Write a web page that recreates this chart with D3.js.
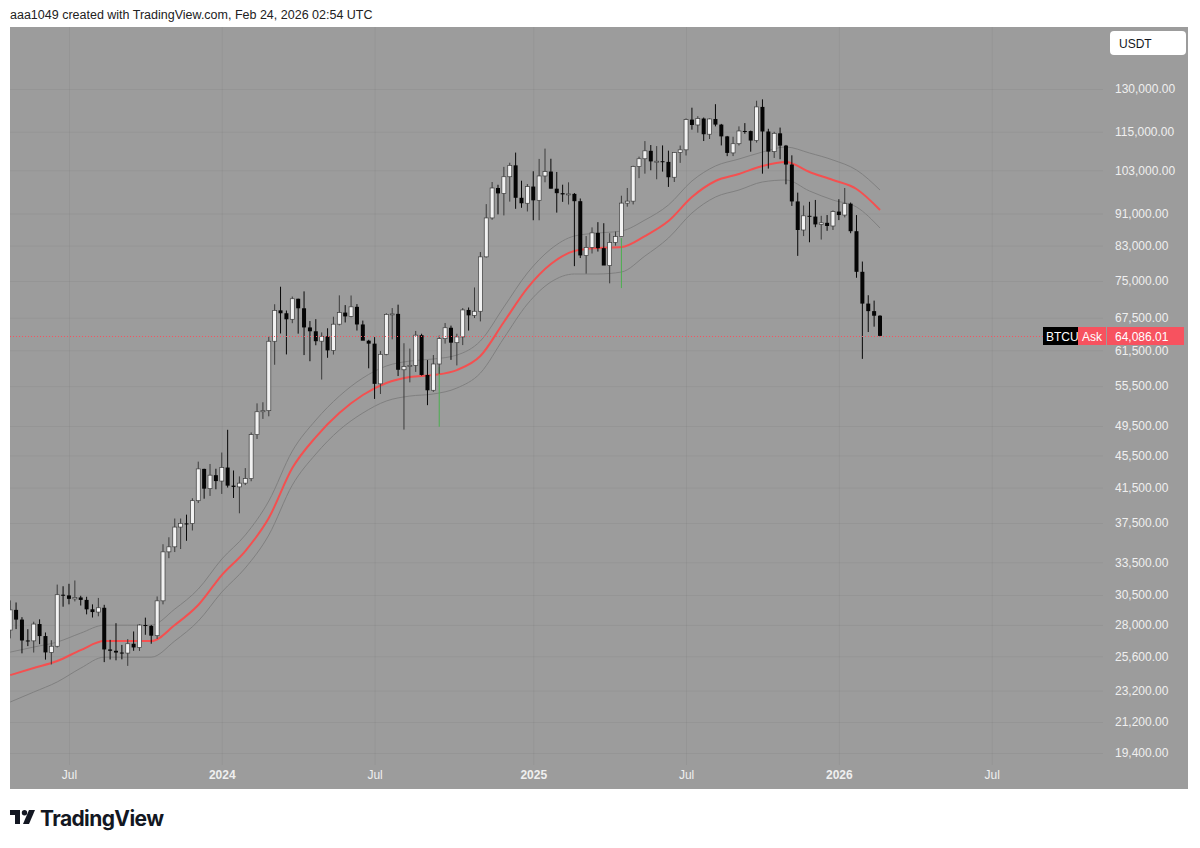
<!DOCTYPE html>
<html>
<head>
<meta charset="utf-8">
<script src="https://cdn.jsdelivr.net/npm/d3@7"></script>
<style>
  body { margin: 0; background: #fff; }
  svg { display: block; font-family: "Liberation Sans", Arial, sans-serif; }
</style>
</head>
<body>
<svg id="chart" width="1200" height="848"></svg>
<script>
// Velas semanales BTC/USDT (lunes de cada semana)
const firstWeek = "2023-04-24";
const lastWeek = "2026-02-23";

const opens = [27590,29233,28430,26780,26750,28070,27120,25880,26340,30530,30470,30170,30290,30080,29280,29050,29410,26100,26000,25870,
  25830,26530,26250,27990,27920,27150,30000,34520,35020,37060,37450,37440,39970,43780,41370,43000,42280,43950,41730,41580,
  42030,42580,48300,51570,51730,63110,68950,68380,67210,71280,69360,65660,64940,63120,64010,61480,66270,68510,67770,69650,
  66220,63210,62680,55860,60790,68160,68260,58160,58710,58900,64220,57300,54840,59130,63580,65600,62850,63900,69030,67970,
  68770,80370,89850,97900,96400,101110,104460,95190,93710,98300,94500,101330,102620,97700,96460,96120,96260,94270,80700,82580,
  86090,82400,78400,83760,85170,93750,94280,104120,106450,108900,105650,105700,105500,100960,108380,109210,119090,117270,119450,114200,
  119300,117400,113500,108250,111140,115270,115230,112160,123500,115100,108640,114500,110540,104700,94200,86800,90400,90200,88200,88600,
  87800,91500,90600,93600,86500,77000,70300,68800,67900];
const highs = [30036,29860,28630,27660,28260,28450,27400,26800,31430,31280,31500,31800,30440,30350,29700,30250,29660,26830,28140,26440,
  26890,27480,28050,28590,28000,30380,35280,35990,37980,37980,38400,40250,44700,43800,44400,43800,45880,48970,43580,42850,
  43880,48600,52820,52990,64000,70170,73780,68920,71730,71300,72800,66870,67230,64730,65500,67700,71980,70000,71950,70200,
  66960,63370,63860,61360,68380,69400,70080,62750,61800,65000,64480,59800,60670,64130,66500,66000,64480,69400,69520,73620,
  81500,93480,99590,98800,104000,105250,108350,99960,99000,102700,106400,109590,106450,102500,98830,99500,96500,95000,85310,87450,
  88770,88500,86000,86430,95760,97900,104350,107100,111980,110720,110390,110600,108950,108500,110550,119500,123220,120250,119800,119500,
  124470,117630,113650,113380,116800,117900,115400,125700,126200,116000,115000,116400,110750,107500,96600,93100,94100,94600,90400,90600,
  91800,94800,97900,93900,90600,79300,72000,70900,68000];
const lows = [26942,27666,25811,26350,25870,26500,25350,25000,26250,29500,29700,29950,29600,28860,28600,28700,25170,25360,25300,25370,
  24900,26000,25990,27220,26530,26900,29700,33900,34500,34800,35630,36700,39700,40200,40520,41300,40750,41500,40280,38550,
  41800,42260,47700,50520,50900,59000,64530,60770,66460,64500,60660,59600,62390,56550,60190,60750,66060,66600,67600,65080,
  63380,58400,53500,54260,60630,63450,57120,49000,56100,57800,57200,52550,54590,57490,62680,59830,58890,62420,65070,67450,
  66800,80200,89380,90770,90500,94150,92230,92500,91530,89260,89250,99510,97780,91230,94090,93380,78260,80100,76600,81150,
  81600,81300,74500,83000,85100,92800,93400,100700,102000,103000,100370,102600,98200,99600,105200,107450,115700,114720,112000,112650,
  116800,110600,107250,107270,110600,114370,108620,111500,102000,103500,106700,106300,98940,93000,80600,85300,83800,87500,84450,86600,
  86800,89300,90000,86000,75700,60000,64800,65800,64000];
const closes = [29233,28430,26780,26750,28070,27120,25880,26340,30530,30470,30170,30290,30080,29280,29050,29410,26100,26000,25870,25830,
  26530,26250,27990,27920,27150,30000,34520,35020,37060,37450,37440,39970,43780,41370,43000,42280,43950,41730,41580,42030,
  42580,48300,51570,51730,63110,68950,68380,67210,71280,69360,65660,64940,63120,64010,61480,66270,68510,67770,69650,66220,
  63210,62680,55860,60790,68160,68260,58160,58710,58900,64220,57300,54840,59130,63580,65600,62850,63900,69030,67970,68770,
  80370,89850,97900,96400,101110,104460,95190,93710,98300,94500,101330,102620,97700,96460,96120,96260,94270,80700,82580,86090,
  82400,78400,83760,85170,93750,94280,104120,106450,108900,105650,105700,105500,100960,108380,109210,119090,117270,119450,114200,119300,
  117400,113500,108250,111140,115270,115230,112160,123500,115100,108640,114500,110540,104700,94200,86800,90400,90200,88200,88600,87800,
  91500,90600,93600,86500,77000,70300,68800,67900,64086.01];

// Media (roja) y canal gris, leídos cada 4 semanas
const bandStep = 4;
const maMid = [24250,24750,25250,26050,26730,26730,26730,27990,29640,32300,34600,38030,43880,47960,51370,54100,55990,56960,57290,58110,
  60490,66680,73500,78740,81730,82430,82670,85310,89060,95400,99880,101900,104270,105460,102490,100160,97610,91910];
const maUpper = [25900,26280,26660,27350,27980,27980,27980,29300,31030,33810,36220,39930,46070,50350,53930,56800,58790,59630,59980,60660,
  63150,69610,76730,82200,85320,86050,86550,89310,93240,99880,104270,106370,108530,110090,108220,106070,103070,97330];
const maLower = [22450,23100,23780,24740,25530,25530,25530,26740,28310,30760,32960,36220,41790,45680,48930,51380,53180,53940,54260,55190,
  57610,63690,70210,74780,76520,76520,76950,80560,84830,91130,95400,97330,99600,100160,97060,94580,92710,87290];

// Marcas verdes sueltas
const greenDates = ["2024-09-16", "2025-04-21"];
const greenLow = [49400, 73500];
const greenHigh = [58600, 84800];

// Ejes
const priceTicks = [130000,115000,103000,91000,83000,75000,67500,61500,55500,49500,45500,41500,37500,33500,30500,28000,25600,23200,21200,19400];
const timeTicks = ["2023-07-03","2024-01-01","2024-07-01","2025-01-06","2025-07-07","2026-01-05","2026-07-06"];
const timeLabels = ["Jul","2024","Jul","2025","Jul","2026","Jul"];
const lastPrice = 64086.01;

const weeks = d3.utcMonday.range(new Date(firstWeek), d3.utcDay.offset(new Date(lastWeek), 1));
const candles = weeks.map((d, i) => ({ date: d, o: opens[i], h: highs[i], l: lows[i], c: closes[i] }));
const band = maMid.map((m, k) => ({ date: weeks[k * bandStep], mid: m, up: maUpper[k], lo: maLower[k] }));

const svg = d3.select("#chart");
const plot = { left: 10, right: 1103, top: 27, bottom: 765 };

const x = d3.scaleUtc().domain([weeks[0], weeks[weeks.length - 1]]).range([10.2, 880]);
const y = d3.scaleLog().domain([19400, 130000]).range([753, 89]);

// texto superior
svg.append("text").attr("x", 10).attr("y", 19).attr("font-size", 12.5).attr("fill", "#222")
  .text("aaa1049 created with TradingView.com, Feb 24, 2026 02:54 UTC");

// fondo gris
svg.append("rect").attr("x", 10).attr("y", 27).attr("width", 1178).attr("height", 762).attr("fill", "#9c9c9c");

svg.append("clipPath").attr("id", "plotClip").append("rect")
  .attr("x", plot.left).attr("y", plot.top).attr("width", plot.right - plot.left).attr("height", plot.bottom - plot.top);

// rejilla
const grid = svg.append("g").attr("clip-path", "url(#plotClip)");
grid.append("g").attr("transform", `translate(${plot.left},0)`)
  .call(d3.axisRight(y).tickValues(priceTicks).tickSize(plot.right - plot.left).tickFormat(""))
  .call(g => g.select(".domain").remove())
  .call(g => g.selectAll("line").attr("stroke", "#000").attr("stroke-opacity", 0.045));
grid.append("g").attr("transform", `translate(0,${plot.top})`)
  .call(d3.axisBottom(x).tickValues(timeTicks.map(t => new Date(t))).tickSize(plot.bottom - plot.top).tickFormat(""))
  .call(g => g.select(".domain").remove())
  .call(g => g.selectAll("line").attr("stroke", "#000").attr("stroke-opacity", 0.045));

const chart = svg.append("g").attr("clip-path", "url(#plotClip)");

// canal y media
const line = key => d3.line().x(d => x(d.date)).y(d => y(d[key])).curve(d3.curveMonotoneX);
chart.append("path").datum(band).attr("d", line("up")).attr("fill", "none").attr("stroke", "#808080").attr("stroke-width", 1);
chart.append("path").datum(band).attr("d", line("lo")).attr("fill", "none").attr("stroke", "#808080").attr("stroke-width", 1);
chart.append("path").datum(band).attr("d", line("mid")).attr("fill", "none").attr("stroke", "#f45050").attr("stroke-width", 2);

// marcas verdes
chart.selectAll("line.green").data(greenDates).join("line").attr("class", "green")
  .attr("x1", d => x(new Date(d))).attr("x2", d => x(new Date(d)))
  .attr("y1", (d, i) => y(greenHigh[i])).attr("y2", (d, i) => y(greenLow[i]))
  .attr("stroke", "#4caf50").attr("stroke-width", 1);

// velas
const up = d => d.c >= d.o;
chart.selectAll("line.wick").data(candles).join("line").attr("class", "wick")
  .attr("x1", d => x(d.date)).attr("x2", d => x(d.date))
  .attr("y1", d => y(d.h)).attr("y2", d => y(d.l))
  .attr("stroke", d => up(d) ? "#3c3c3c" : "#080808").attr("stroke-width", 1);
chart.selectAll("rect.body").data(candles).join("rect").attr("class", "body")
  .attr("x", d => x(d.date) - 2)
  .attr("width", 4)
  .attr("y", d => y(Math.max(d.o, d.c)))
  .attr("height", d => Math.max(1, Math.abs(y(d.o) - y(d.c))))
  .attr("fill", d => up(d) ? "#f2f2f2" : "#050505")
  .attr("stroke", d => up(d) ? "#3c3c3c" : "none")
  .attr("stroke-width", 0.7);

// línea de precio punteada
svg.append("line").attr("x1", plot.left).attr("x2", 1043)
  .attr("y1", Math.round(y(lastPrice)) + 0.5).attr("y2", Math.round(y(lastPrice)) + 0.5)
  .attr("stroke", "#f7525f").attr("stroke-width", 1).attr("stroke-dasharray", "1,2");

// eje de precios
svg.append("g").attr("transform", "translate(1115,0)")
  .call(d3.axisRight(y).tickValues(priceTicks).tickSize(0).tickPadding(0).tickFormat(d3.format(",.2f")))
  .call(g => g.select(".domain").remove())
  .call(g => g.selectAll("text").attr("fill", "#efefef").attr("font-size", 12)
    .attr("font-family", "'Liberation Sans', Arial, sans-serif"));

// eje de tiempo
svg.append("g").attr("transform", "translate(0,770)")
  .call(d3.axisBottom(x).tickValues(timeTicks.map(t => new Date(t))).tickSize(0).tickPadding(0)
    .tickFormat((d, i) => timeLabels[i]))
  .call(g => g.select(".domain").remove())
  .call(g => g.selectAll("text").attr("fill", "#efefef").attr("font-size", 12)
    .attr("font-family", "'Liberation Sans', Arial, sans-serif")
    .attr("font-weight", (d, i) => timeLabels[i] === "Jul" ? 400 : 700));

// caja USDT
svg.append("rect").attr("x", 1110).attr("y", 31).attr("width", 76).attr("height", 24).attr("rx", 4).attr("fill", "#fff");
svg.append("text").attr("x", 1119).attr("y", 47.5).attr("font-size", 12).attr("fill", "#131722").text("USDT");

// etiqueta del último precio
const ly = Math.round(y(lastPrice));
const tag = svg.append("g");
tag.append("rect").attr("x", 1043).attr("y", ly - 9).attr("width", 35).attr("height", 18).attr("fill", "#000");
tag.append("text").attr("x", 1046).attr("y", ly + 4.5).attr("font-size", 12).attr("fill", "#fff").text("BTCU");
tag.append("rect").attr("x", 1078).attr("y", ly - 9).attr("width", 28).attr("height", 18).attr("fill", "#f7525f");
tag.append("text").attr("x", 1082).attr("y", ly + 4.5).attr("font-size", 12).attr("fill", "#fff").text("Ask");
tag.append("rect").attr("x", 1107).attr("y", ly - 9).attr("width", 77).attr("height", 18).attr("fill", "#f7525f");
tag.append("text").attr("x", 1115).attr("y", ly + 4.5).attr("font-size", 12).attr("fill", "#fff")
  .text(d3.format(",.2f")(lastPrice));

// logo TradingView
const logo = svg.append("g").attr("fill", "#131722");
logo.append("path").attr("d", "M10,810 h10 v14 h-5 v-9 h-5 z");
logo.append("circle").attr("cx", 24.5).attr("cy", 812.7).attr("r", 2.7);
logo.append("path").attr("d", "M29,810 h6 l-6,14 h-6 z");
logo.append("text").attr("x", 40).attr("y", 826).attr("font-size", 21).attr("font-weight", 700)
  .attr("font-family", "Inter, 'Liberation Sans', sans-serif").attr("letter-spacing", -0.6).text("TradingView");
</script>
</body>
</html>
